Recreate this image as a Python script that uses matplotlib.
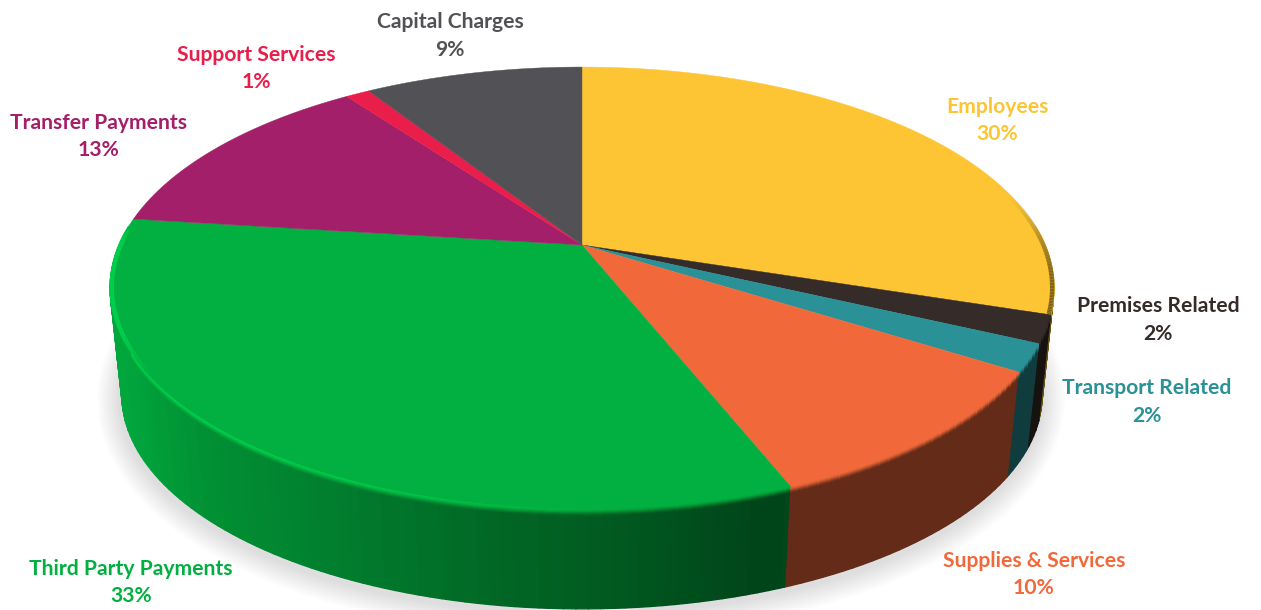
import numpy as np
import matplotlib
matplotlib.use("Agg")
import matplotlib.pyplot as plt
from matplotlib.collections import PolyCollection, LineCollection
from matplotlib.colors import to_rgb

# Budget shares, clockwise from twelve o'clock
categories = ["Employees", "Premises Related", "Transport Related", "Supplies & Services",
              "Third Party Payments", "Transfer Payments", "Support Services", "Capital Charges"]
shares = [30, 2, 2, 10, 33, 13, 1, 9]
colors = ["#FDC534", "#352B28", "#2A9296", "#F1693A", "#01B040", "#A31F69", "#E91E4B", "#525256"]
label_xy = [(997, 107), (1158, 306), (1147, 388), (1034, 561),
            (131, 569), (99, 123), (256, 55), (450, 22)]

plt.rcParams["font.family"] = ["Lato", "DejaVu Sans"]

fig = plt.figure(figsize=(12.61, 6.10), dpi=100, facecolor="white")
ax = fig.add_axes([0, 0, 1, 1])
ax.set_xlim(0, 1261)
ax.set_ylim(610, 0)
ax.axis("off")

# Perspective disc: apex, half-axes and foreshortening
CX, CY = 582.0, 245.0
PERSP = 0.193
AX_X = 463.0
AX_Y = 212.3
# The lower face of the disc is slightly smaller and shifted down
LOW_SCALE_X, LOW_SCALE_Y, LOW_SHIFT = 0.975, 0.97, 108.7
RIM_T = 0.09


def top_xy(theta, r=1.0):
    u, v = np.sin(theta), -np.cos(theta)
    d = 1 - PERSP * v
    return r * AX_X * u / d, r * AX_Y * v / d


def low_xy(theta):
    x, y = top_xy(theta)
    return x * LOW_SCALE_X, y * LOW_SCALE_Y + LOW_SHIFT


def smooth(a):
    a = np.clip(a, 0, 1)
    return a * a * (3 - 2 * a)


def wedge_index(theta):
    return min(int(np.searchsorted(edges, theta)) - 1, len(colors) - 1)


fractions = np.array(shares, dtype=float) / sum(shares)
edges = np.concatenate([[0], np.cumsum(fractions)]) * 2 * np.pi

# Soft drop shadow around the lower outline
ring = np.linspace(0, 2 * np.pi, 500)
lx, ly = low_xy(ring)
for width in np.arange(34, 1, -3):
    ax.plot(CX + lx - 1, CY + ly + 4, color="black", alpha=0.010, lw=width,
            solid_joinstyle="round", zorder=1)

# Side wall: strips of small quads, lit from the left
side_start, side_end = np.radians(85), np.radians(275)
inner = edges[(edges > side_start) & (edges < side_end)]
thetas = np.unique(np.concatenate([np.linspace(side_start, side_end, 150), inner]))
depths = np.concatenate([np.linspace(0, RIM_T, 10), np.linspace(RIM_T, 1, 3)[1:]])
quads, quad_colors = [], []
for th0, th1 in zip(thetas[:-1], thetas[1:]):
    mid = 0.5 * (th0 + th1)
    base = np.array(to_rgb(colors[wedge_index(mid)]))
    tx0, ty0 = top_xy(th0)
    tx1, ty1 = top_xy(th1)
    bx0, by0 = low_xy(th0)
    bx1, by1 = low_xy(th1)
    px = CX + 0.5 * (tx0 + tx1)
    light = np.interp(px, [115, 200, 350, 500, 600, 773, 790, 1100],
                      [0.95, 0.82, 0.70, 0.58, 0.52, 0.38, 0.41, 0.41])
    glow = np.interp(px, [115, 400, 620], [1.20, 1.12, 1.0])
    for d0, d1 in zip(depths[:-1], depths[1:]):
        dm = 0.5 * (d0 + d1)
        rim = np.clip(base * glow, 0, 1)
        wall = base * light
        shade = rim + (wall - rim) * smooth((dm - 0.015) / (RIM_T - 0.015))
        if dm < 0.015:
            shade = base + (rim - base) * dm / 0.015
        quads.append([(CX + tx0 + (bx0 - tx0) * d0, CY + ty0 + (by0 - ty0) * d0),
                      (CX + tx1 + (bx1 - tx1) * d0, CY + ty1 + (by1 - ty1) * d0),
                      (CX + tx1 + (bx1 - tx1) * d1, CY + ty1 + (by1 - ty1) * d1),
                      (CX + tx0 + (bx0 - tx0) * d1, CY + ty0 + (by0 - ty0) * d1)])
        quad_colors.append(shade)
wall_mesh = PolyCollection(quads, facecolors=quad_colors, edgecolors=quad_colors,
                           linewidths=1.0, zorder=2)
wall_mesh.set_snap(False)
ax.add_collection(wall_mesh)

# Top face wedges
for start, end, col in zip(edges[:-1], edges[1:], colors):
    arc = np.linspace(start, end, 160)
    x, y = top_xy(arc)
    ax.fill(np.r_[CX, CX + x], np.r_[CY, CY + y], facecolor=col, edgecolor=col,
            lw=0.3, zorder=3)

# Bevel along the upper part of the rim: bright on the left, dark on the right
bevel_segments, bevel_colors = [], []
left_arc = np.linspace(edges[5] - 0.75, edges[5] - 0.002, 90)
right_arc = np.linspace(np.radians(74), edges[1] - 0.002, 90)
for arc, gain, is_left in ((left_arc, 1.18, True), (right_arc, 0.45, False)):
    x, y = top_xy(arc, 0.9965)
    for i in range(len(arc) - 1):
        base = np.array(to_rgb(colors[wedge_index(0.5 * (arc[i] + arc[i + 1]))]))
        pos = i / (len(arc) - 2)
        if is_left:
            strength = smooth((1 - pos) * 6) * smooth(pos * 3)
        else:
            strength = 0.9 * smooth(pos * 1.3)
        bevel_segments.append([(CX + x[i], CY + y[i]), (CX + x[i + 1], CY + y[i + 1])])
        bevel_colors.append((*np.clip(base * gain, 0, 1), strength))
ax.add_collection(LineCollection(bevel_segments, colors=bevel_colors, linewidths=3.2,
                                 capstyle="butt", zorder=4))

# Two-line labels: name, then share
for name, share, (tx, ty), col in zip(categories, shares, label_xy, colors):
    ax.text(tx, ty, name, color=col, fontsize=15.2, fontweight="bold",
            ha="center", va="center", zorder=5)
    ax.text(tx, ty + 27.5, f"{share}%", color=col, fontsize=15.2, fontweight="bold",
            ha="center", va="center", zorder=5)

fig.savefig("out.png", dpi=100, facecolor="white")
